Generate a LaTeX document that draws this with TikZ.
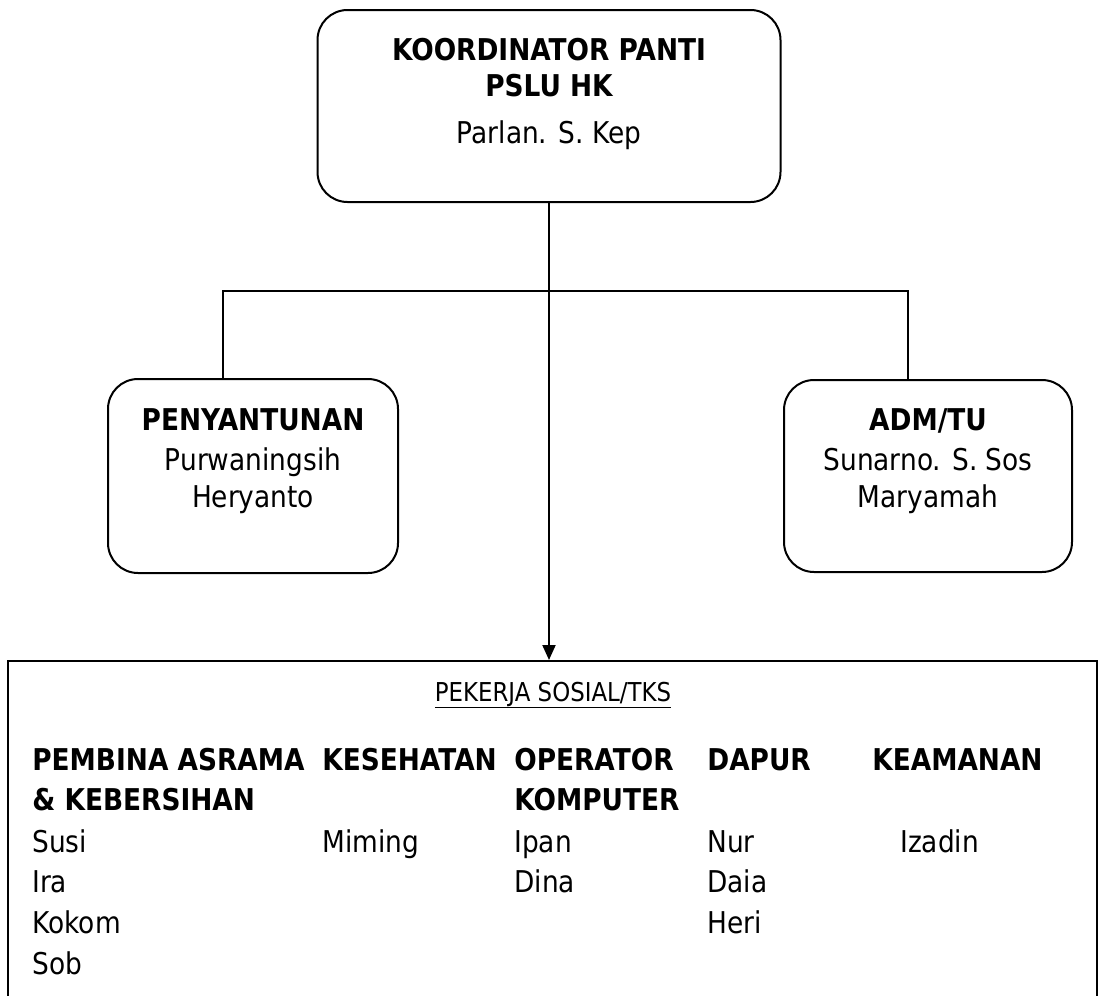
\documentclass[tikz,border=0pt]{standalone}
\usepackage{fontspec}
\setmainfont{DejaVu Sans}[FakeStretch=0.88]
\usetikzlibrary{positioning,arrows.meta}

\begin{document}
\begin{tikzpicture}[x=1pt,y=-1pt,line width=2pt,
        every node/.style={font=\fontsize{30}{36}\selectfont},
        head/.style={font=\fontsize{30}{36}\selectfont\bfseries},
        roundbox/.style={draw,rounded corners=30pt,inner sep=0pt},
        member/.style={anchor=base west}]
    \useasboundingbox (0,0) rectangle (1101,996);
    % kotak
    \node[roundbox,minimum width=463pt,minimum height=192pt] (koord) at (549,106) {};
    \node[roundbox,minimum width=290pt,minimum height=194pt] (santun) at (253,476) {};
    \node[roundbox,minimum width=288pt,minimum height=192pt] (adm) at (928,476) {};
    \node[draw,inner sep=0pt,anchor=north west,minimum width=1089pt,minimum height=400pt] (pekerja) at (7,660) {};
    % garis
    \coordinate (barL) at (223,291);
    \coordinate (barR) at (908,291);
    \draw (santun.north -| barL) -- (barL) -- (barR) -- (adm.north -| barR);
    \draw[-{Triangle[length=15pt,width=13pt]}] (koord.south) -- (pekerja.north -| koord.south);
    % koordinator
    \node[head,anchor=base] (koordA) at (549,60) {KOORDINATOR PANTI};
    \node[head,anchor=base] (koordB) at (549,96) {PSLU HK};
    \node[anchor=base] (koordC) at (549,143) {Parlan. S. Kep};
    % penyantunan
    \node[head,anchor=base] (santunA) at (253,430) {PENYANTUNAN};
    \node[anchor=base] (santunB) at (253,470) {Purwaningsih};
    \node[anchor=base] (santunC) at (253,507) {Heryanto};
    % adm
    \node[head,anchor=base] (admA) at (928,430) {ADM/TU};
    \node[anchor=base] (admB) at (928,470) {Sunarno. S. Sos};
    \node[anchor=base] (admC) at (928,507) {Maryamah};
    % pekerja sosial
    \node[anchor=base,font=\fontsize{26}{30}\selectfont] (pekerjaT) at (553,701) {\underline{PEKERJA SOSIAL/TKS}};
    \node[head,member] (asramaH) at (28,770) {PEMBINA ASRAMA};
    \node[head,member] (asramaH2) at (28,810) {\& KEBERSIHAN};
    \node[head,member] (sehatH) at (318,770) {KESEHATAN};
    \node[head,member] (opH) at (510,770) {OPERATOR};
    \node[head,member] (opH2) at (510,810) {KOMPUTER};
    \node[head,member] (dapurH) at (703,770) {DAPUR};
    \node[head,member] (amanH) at (868,770) {KEAMANAN};
    \foreach \nm [count=\i] in {Susi,Ira,Kokom,Sob}
        \node[member] (asrama\i) at (28,{852+40.7*(\i-1)}) {\nm};
    \node[member] (sehat1) at (318,852) {Miming};
    \foreach \nm [count=\i] in {Ipan,Dina}
        \node[member] (op\i) at (510,{852+40.7*(\i-1)}) {\nm};
    \foreach \nm [count=\i] in {Nur,Daia,Heri}
        \node[member] (dapur\i) at (703,{852+40.7*(\i-1)}) {\nm};
    \node[member] (aman1) at (896,852) {Izadin};
\end{tikzpicture}
\end{document}
